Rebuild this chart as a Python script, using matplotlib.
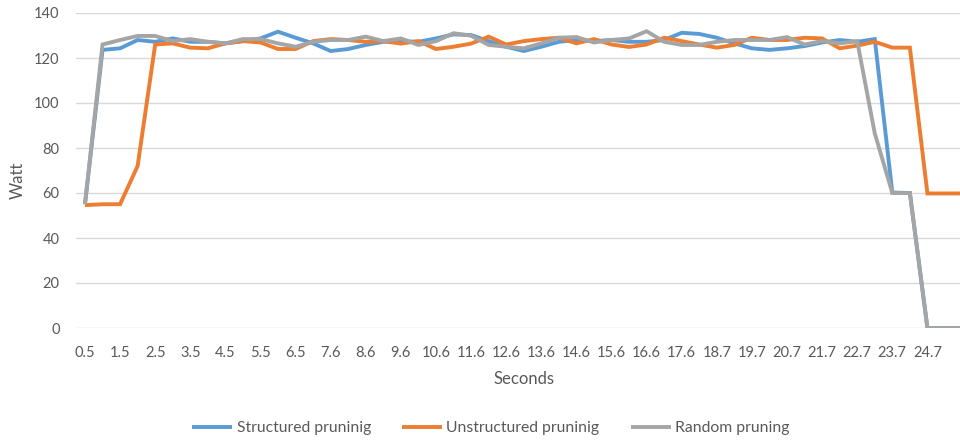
import matplotlib
matplotlib.use("Agg")
import matplotlib.pyplot as plt
import numpy as np

# Sample timestamps shown on the category axis (every other sample is labelled)
tick_labels = ["0.5", "1.5", "2.5", "3.5", "4.5", "5.5", "6.5", "7.6", "8.6", "9.6",
               "10.6", "11.6", "12.6", "13.6", "14.6", "15.6", "16.6", "17.6", "18.7",
               "19.7", "20.7", "21.7", "22.7", "23.7", "24.7"]

# Power draw (Watt) per sample
structured = [55, 123.6, 124.3, 128, 127.2, 128.7, 127.2, 127.2, 126.5, 127.5,
              128.7, 131.7, 129, 126.5, 123.1, 124, 125.8, 127.2, 127.5, 127.2,
              128.7, 130.5, 130.2, 127.5, 125, 123.1, 125, 127.2, 128, 127.5,
              128, 127.2, 127.2, 128, 131.2, 130.7, 129, 126.5, 124.3, 123.6,
              124.3, 125.3, 126.9, 128, 127.2, 128.4, 60.2, 60, 0, 0, 0]
unstructured = [54.6, 55, 55, 72, 126, 126.5, 124.6, 124.3, 126.5, 127.5,
                126.9, 124, 124, 127.5, 128.4, 128, 127.2, 127.5, 126.4, 127.5,
                124, 125, 126.4, 129.5, 126, 127.5, 128.4, 129, 126.5, 128.4,
                126, 124.9, 126, 129, 127.5, 126, 124.6, 125.8, 129, 128,
                128, 129, 128.7, 124.3, 125.5, 127.2, 124.6, 124.6, 59.8, 59.8, 59.8]
random_pruning = [55, 126, 128, 129.8, 129.8, 127.5, 128.4, 127.2, 126.5, 128.4,
                  128.4, 126.5, 125, 127.2, 128, 128, 129.5, 127.5, 128.7, 125.8,
                  127.5, 131, 129.9, 125.8, 125, 124.3, 126.5, 129, 129.3, 126.9,
                  128, 128.7, 131.9, 127.2, 125.8, 125.8, 127.2, 128, 128, 128,
                  129.3, 126, 127.5, 126.5, 127.5, 86.5, 60, 60, 0, 0, 0]

series_names = ["Structured pruninig", "Unstructured pruninig", "Random pruning"]
colors = ["#5B9BD5", "#ED7D31", "#A5A5A5"]

plt.rcParams["font.family"] = ["Lato", "DejaVu Sans"]
text_color = "#595959"
grid_color = "#D9D9D9"

fig = plt.figure(figsize=(9.6, 4.41), dpi=100)
# plot area runs a little past the right edge of the canvas
ax = fig.add_axes([76.2 / 960, 113 / 441, (971.3 - 76.2) / 960, 315 / 441])

x = np.arange(len(structured))
for vals, name, col in zip([structured, unstructured, random_pruning], series_names, colors):
    ax.plot(x, vals, color=col, linewidth=2.8, label=name, solid_joinstyle="miter",
            solid_capstyle="butt")

ax.set_xlim(-0.5, len(structured) - 0.5)
ax.set_ylim(0, 140)
ax.set_yticks(np.arange(0, 141, 20))
ax.set_xticks(np.arange(0, 2 * len(tick_labels), 2))
ax.set_xticklabels(tick_labels)

ax.grid(axis="y", color=grid_color, linewidth=1.0)
ax.set_axisbelow(True)
for s in ax.spines.values():
    s.set_visible(False)
ax.tick_params(axis="both", length=0, labelsize=10.5, colors=text_color)
ax.tick_params(axis="x", pad=13)
ax.tick_params(axis="y", pad=12)

ax.set_xlabel("Seconds", fontsize=12, color=text_color, labelpad=8)
fig.text(18 / 960, 1 - 180 / 441, "Watt", rotation=90, fontsize=12, color=text_color,
         ha="center", va="center")

handles, labels = ax.get_legend_handles_labels()
fig.legend(handles, labels, loc="center", bbox_to_anchor=(491 / 960, 13 / 441), ncol=3,
           frameon=False, fontsize=11.3, labelcolor=text_color, handlelength=2.55,
           handletextpad=0.26, columnspacing=2.0)

fig.savefig("out.png", dpi=100)
